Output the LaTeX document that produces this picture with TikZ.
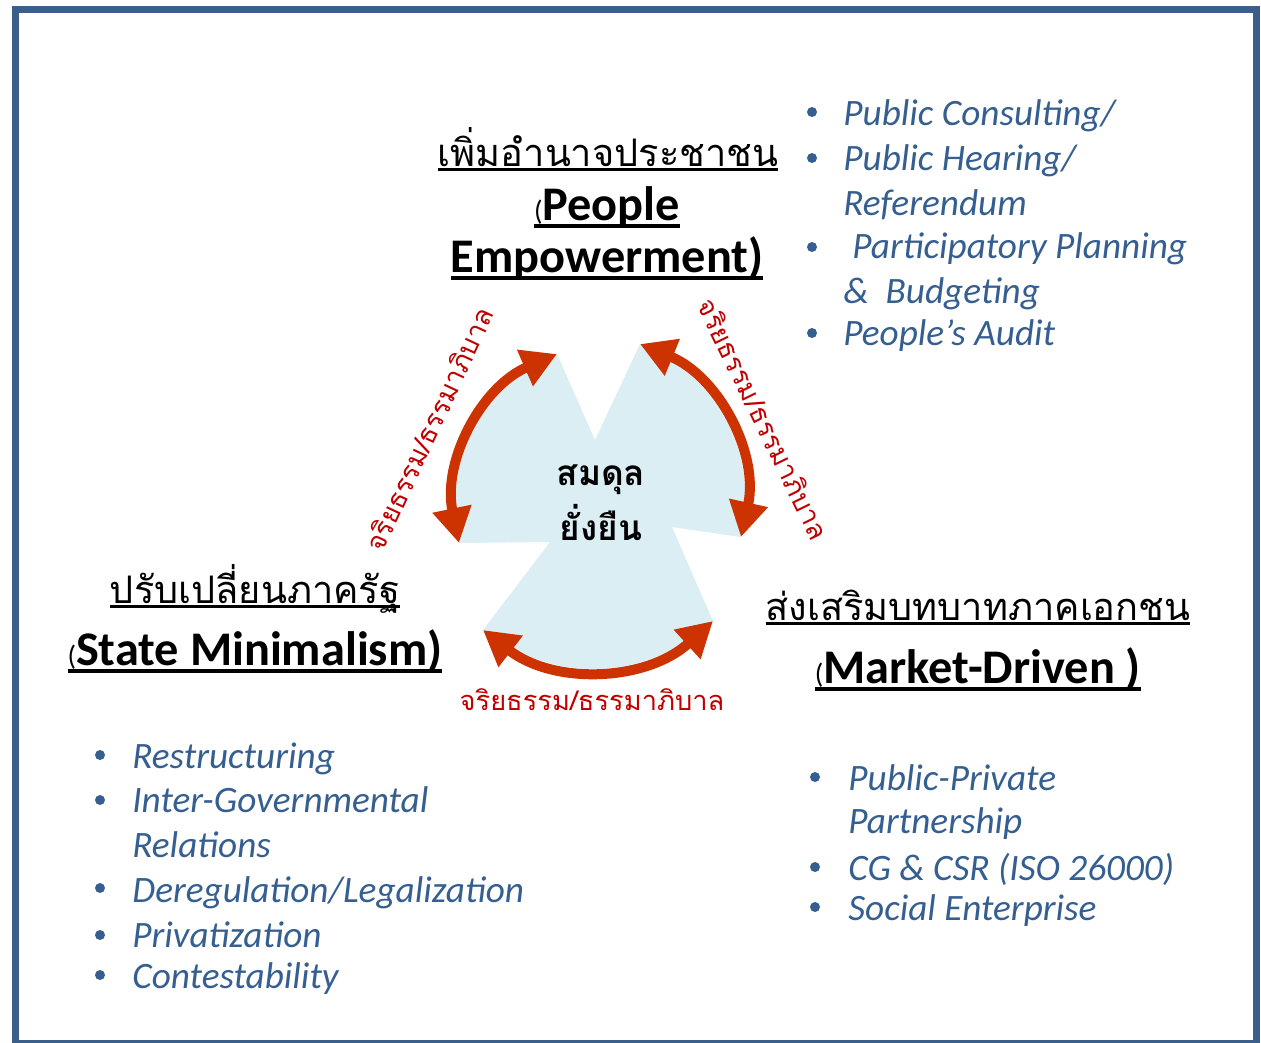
\documentclass[tikz,border=0pt]{standalone}
\usepackage{fontspec}
\setmainfont{Carlito}
\newfontfamily\thaifont[Script=Thai]{Loma}
\usetikzlibrary{arrows.meta}

\definecolor{framecol}{HTML}{3A5F8B}
\definecolor{itemblue}{HTML}{365F91}
\definecolor{balancefill}{HTML}{DAEEF3}
\definecolor{arrowred}{HTML}{CC3300}
\definecolor{ethicsred}{HTML}{C00000}

% underline at a given depth below the baseline
\newcommand\headrule[3][1.6pt]{\setbox0\hbox{#3}\rlap{\raisebox{-#2}{\rule{\wd0}{#1}}}\box0}

\begin{document}
\begin{tikzpicture}[x=0.02cm,y=-0.02cm,
    item/.style={anchor=base west,inner sep=0pt,text=itemblue,font=\fontsize{21.2}{25}\selectfont\itshape},
    thaihead/.style={anchor=base,inner sep=0pt,font=\thaifont\fontsize{21.6}{26}\selectfont},
    enghead/.style={anchor=base,inner sep=0pt,font=\fontsize{27.5}{32}\selectfont\bfseries},
    ethics/.style={inner sep=0pt,text=ethicsred,font=\thaifont\fontsize{15.5}{18}\selectfont},
    twoway/.style={arrowred,line width=0.2cm,{Triangle[length=0.7cm,width=0.75cm]}-{Triangle[length=0.7cm,width=0.75cm]}}]
    \useasboundingbox (0,0) rectangle (1261,1042);
    \draw[framecol,line width=0.14cm] (15.5,9.5) rectangle (1256,1043.5);

    % tips and notches of the balance shape
    \coordinate (tl) at (557,354);
    \coordinate (nt) at (595,440);
    \coordinate (tr) at (640,344);
    \coordinate (rt) at (741,537);
    \coordinate (nr) at (672,527);
    \coordinate (br) at (713,621);
    \coordinate (bl) at (483,630);
    \coordinate (nl) at (550,542);
    \coordinate (lt) at (459,543);

    \fill[balancefill] (tl) -- (nt) -- (tr) to[bend left=40] (rt) -- (nr) -- (br)
        to[bend left=40] (bl) -- (nl) -- (lt) to[bend left=39] (tl) -- cycle;
    \draw[twoway] (lt) to[bend left=39] (tl);
    \draw[twoway] (tr) to[bend left=40] (rt);
    \draw[twoway] (br) to[bend left=40] (bl);

    \node[ethics,rotate=65] (ethicsL) at (429,429) {จริยธรรม/ธรรมาภิบาล};
    \node[ethics,rotate=-64] (ethicsR) at (764,419) {จริยธรรม/ธรรมาภิบาล};
    \node[ethics] (ethicsB) at (592,700) {จริยธรรม/ธรรมาภิบาล};

    \node[anchor=base,inner sep=0pt,font=\thaifont\bfseries\fontsize{20}{24}\selectfont] (balanceA) at (601,485) {สมดุล};
    \node[anchor=base,inner sep=0pt,font=\thaifont\bfseries\fontsize{20}{24}\selectfont] (balanceB) at (601,540) {ยั่งยืน};

    % three headings
    \node[thaihead] (peopleT) at (608,166) {\headrule{3pt}{เพิ่มอำนาจประชาชน}};
    \node[enghead] (peopleA) at (607,220) {\headrule[2pt]{4.5pt}{{\mdseries\fontsize{16}{16}\selectfont(}People}};
    \node[enghead] (peopleB) at (607,272) {\headrule[2pt]{4.5pt}{Empowerment)}};
    \node[thaihead] (stateT) at (255,603) {\headrule{3pt}{ปรับเปลี่ยนภาครัฐ}};
    \node[enghead] (stateE) at (255,665) {\headrule[2pt]{4.5pt}{{\mdseries\fontsize{16}{16}\selectfont(}State Minimalism)}};
    \node[thaihead] (marketT) at (978,620) {\headrule{3pt}{ส่งเสริมบทบาทภาคเอกชน}};
    \node[enghead] (marketE) at (978,683) {\headrule[2pt]{4.5pt}{{\mdseries\fontsize{16}{16}\selectfont(}Market-Driven )}};

    % bullet lists
    \foreach \y in {112,158,247,333} \fill[itemblue] (812,\y) circle (0.1cm);
    \foreach \y in {755,800,888,935,975} \fill[itemblue] (100,\y) circle (0.1cm);
    \foreach \y in {777,867,907} \fill[itemblue] (815,\y) circle (0.1cm);

    \node[item] (consult) at (843,125) {Public Consulting/};
    \node[item] (hearing) at (843,170) {Public Hearing/};
    \node[item] (refer) at (843,215) {Referendum};
    \node[item] (plan) at (852,258) {Participatory Planning};
    \node[item] (budget) at (843,303) {\&\ \ Budgeting};
    \node[item] (audit) at (843,345) {People’s Audit};

    \node[item] (restr) at (132,768) {Restructuring};
    \node[item] (intergov) at (132,812) {Inter-Governmental};
    \node[item] (relat) at (132,857) {Relations};
    \node[item] (dereg) at (132,902) {Deregulation/Legalization};
    \node[item] (priv) at (132,947) {Privatization};
    \node[item] (contest) at (132,988) {Contestability};

    \node[item] (ppp) at (848,790) {Public-Private};
    \node[item] (partner) at (848,833) {Partnership};
    \node[item] (cgcsr) at (848,880) {CG \& CSR (ISO 26000)};
    \node[item] (social) at (848,920) {Social Enterprise};
\end{tikzpicture}
\end{document}
